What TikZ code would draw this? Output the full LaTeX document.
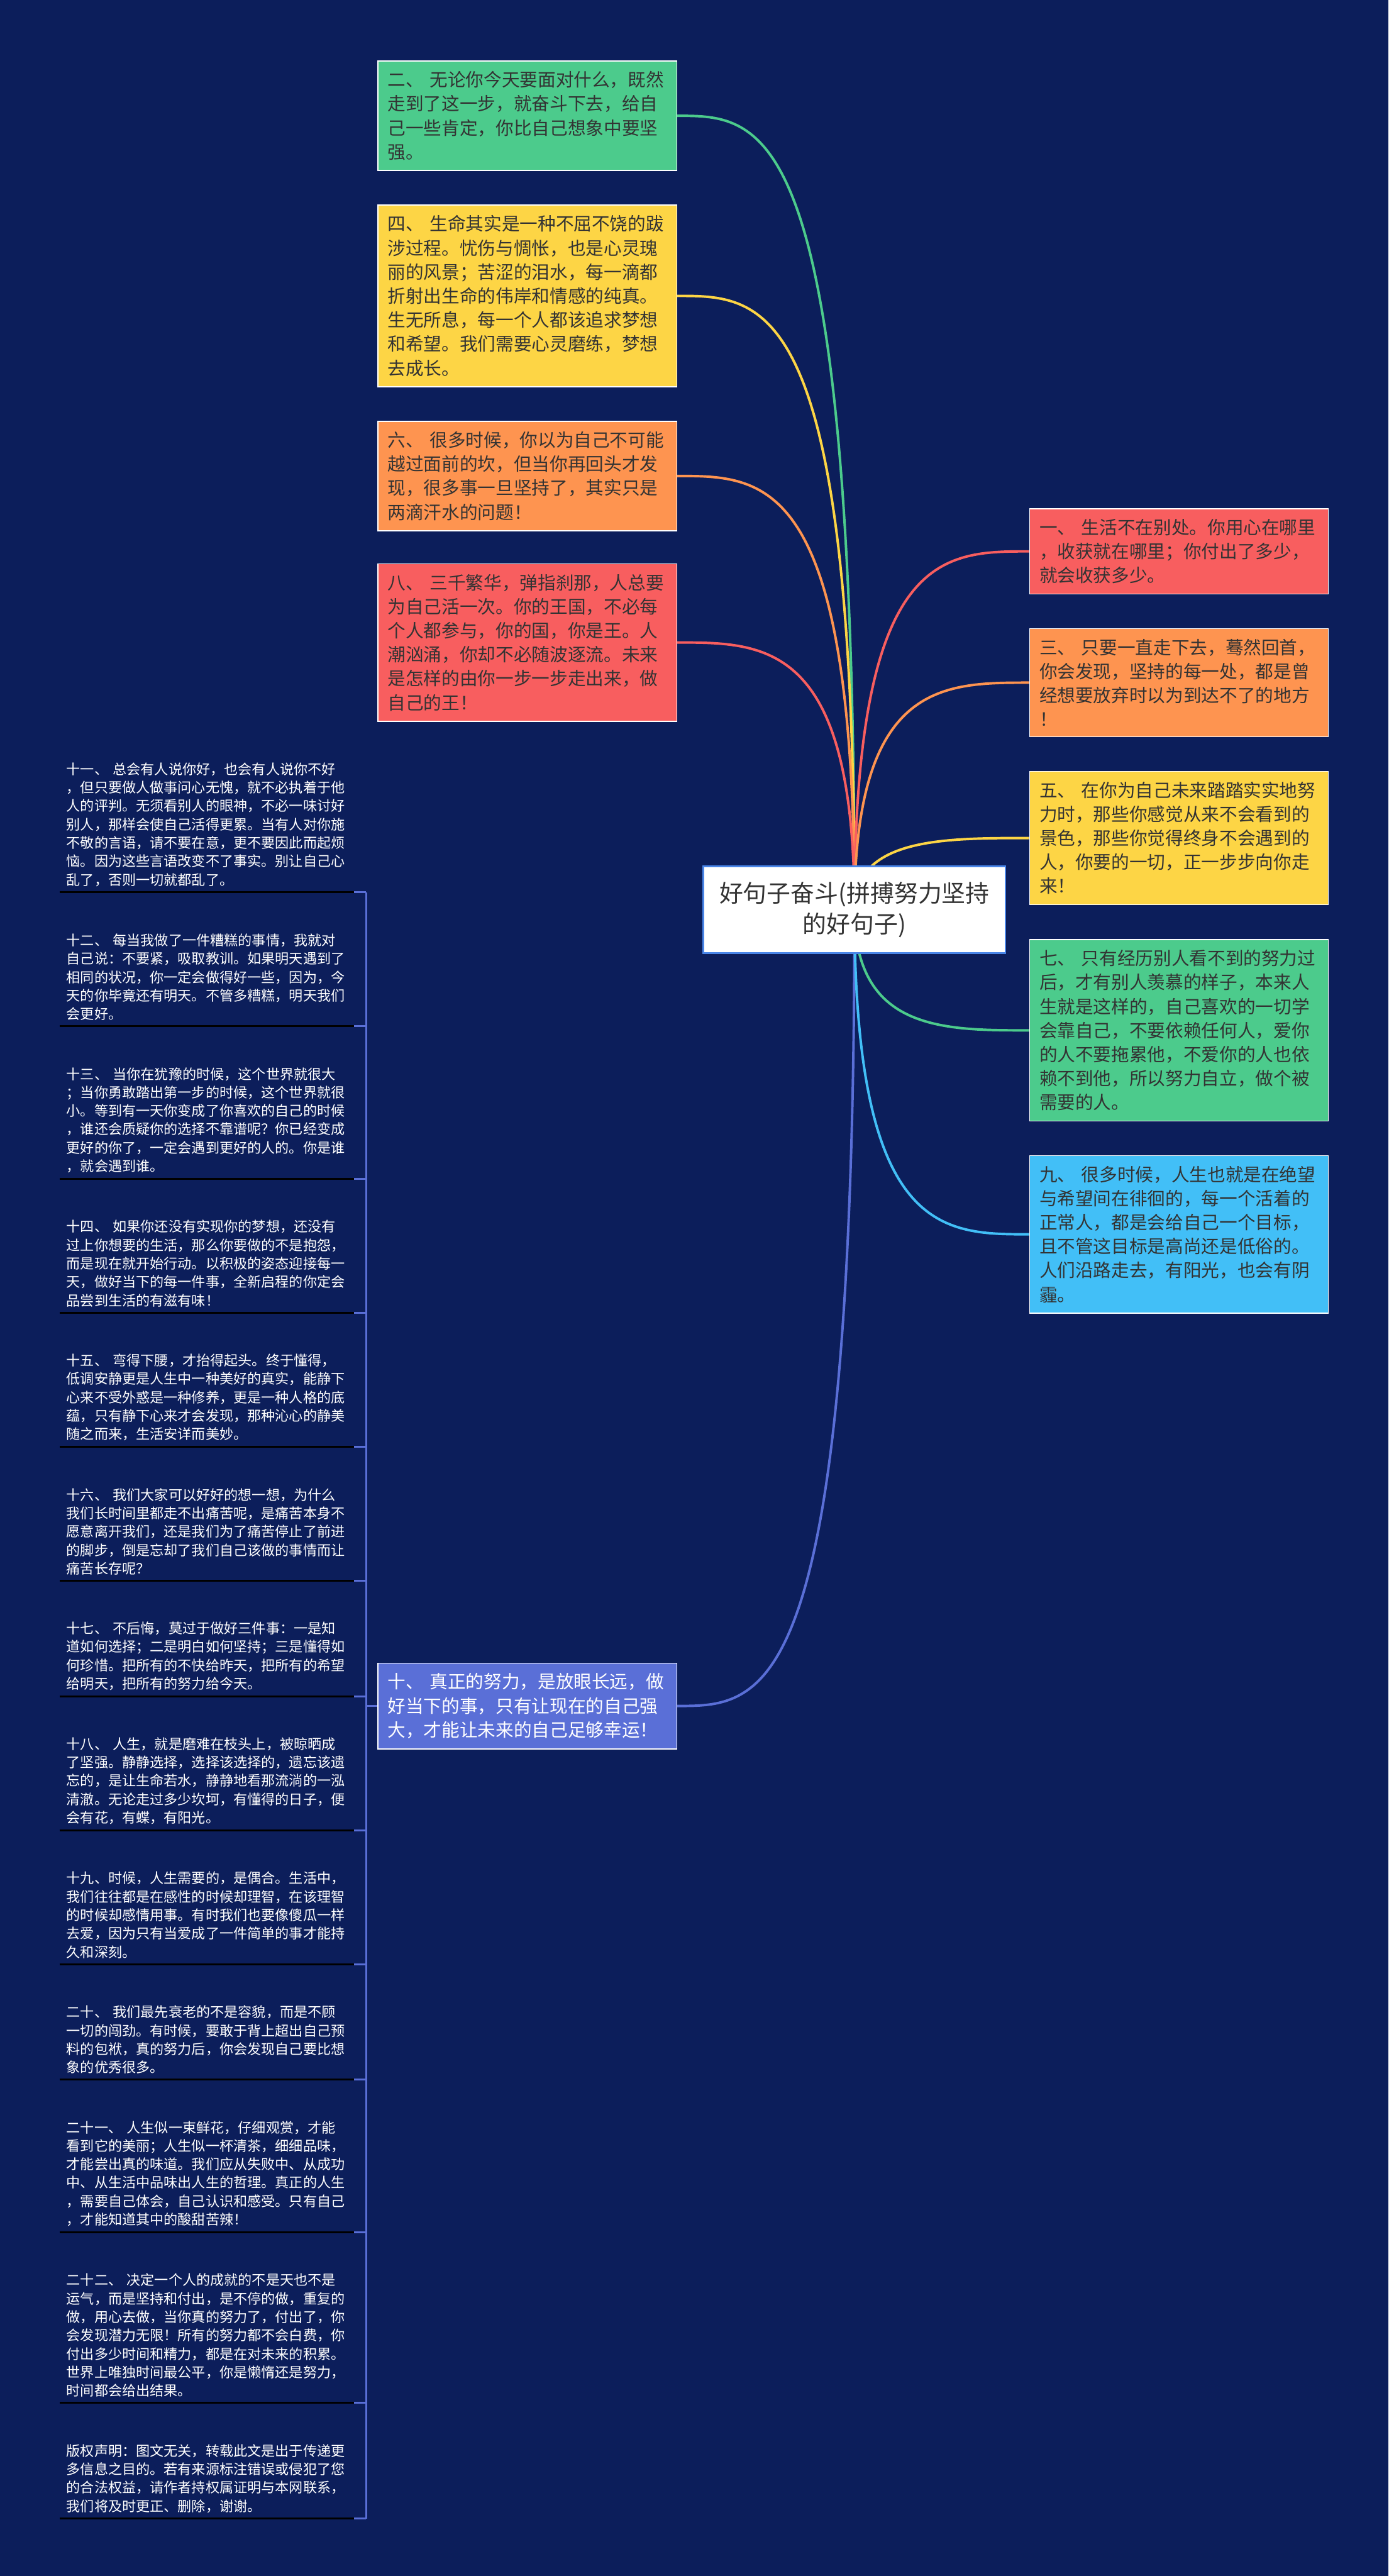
\documentclass[tikz,border=0pt]{standalone}
\usepackage{fontspec}
\setmainfont{Noto Sans CJK SC}
\usetikzlibrary{calc}
\pgfdeclarelayer{back}
\pgfsetlayers{back,main}
\definecolor{bgnavy}{HTML}{0C1E5B}
\definecolor{cgreen}{HTML}{4CCB8C}
\definecolor{cyellow}{HTML}{FDD545}
\definecolor{corange}{HTML}{FE9450}
\definecolor{cred}{HTML}{F85E5F}
\definecolor{csky}{HTML}{42BFF7}
\definecolor{croyal}{HTML}{5A6FD7}
\definecolor{cframe}{HTML}{4A86E8}
\definecolor{cink}{HTML}{333333}
\newcommand{\branch}[2]{\draw[link, #1] (root.center) .. controls (root.center |- #2) and ($(root.center |- #2)!0.5!(#2)$) .. (#2);}
\begin{document}
\begin{tikzpicture}
  \tikzstyle{hub} = [draw=cframe, line width=0.8pt, fill=white, text=cink, minimum width=5.57cm, minimum height=1.6cm, align=center, font=\fontsize{12.5}{16.3}\selectfont]
  \tikzstyle{leaf} = [draw=white, line width=0.5pt, text=cink, text width=5.15cm, inner xsep=0.18cm, inner ysep=0.19cm, align=left, font=\fontsize{9.45}{12.6}\selectfont]
  \tikzstyle{note} = [text=white, text width=5.17cm, inner xsep=0.12cm, inner ysep=0.1cm, align=left, anchor=south west, font=\fontsize{7.3}{9.67}\selectfont]
  \tikzstyle{link} = [line width=1.3pt]
  \tikzstyle{uline} = [line width=1pt]
  \useasboundingbox (0,0) rectangle (25.6,-47.49);

  \node[hub] (root) at (15.755,-16.77) {好句子奋斗(拼搏努力坚持\\的好句子)};

  \node[leaf, fill=cgreen] (b2) at (9.725,-2.135) {二、~无论你今天要面对什么，既然\\走到了这一步，就奋斗下去，给自\\己一些肯定，你比自己想象中要坚\\强。};
  \node[leaf, fill=cyellow] (b4) at (9.725,-5.455) {四、~生命其实是一种不屈不饶的跋\\涉过程。忧伤与惆怅，也是心灵瑰\\丽的风景；苦涩的泪水，每一滴都\\折射出生命的伟岸和情感的纯真。\\生无所息，每一个人都该追求梦想\\和希望。我们需要心灵磨练，梦想\\去成长。};
  \node[leaf, fill=corange] (b6) at (9.725,-8.775) {六、~很多时候，你以为自己不可能\\越过面前的坎，但当你再回头才发\\现，很多事一旦坚持了，其实只是\\两滴汗水的问题！};
  \node[leaf, fill=cred] (b8) at (9.725,-11.845) {八、~三千繁华，弹指刹那，人总要\\为自己活一次。你的王国，不必每\\个人都参与，你的国，你是王。人\\潮汹涌，你却不必随波逐流。未来\\是怎样的由你一步一步走出来，做\\自己的王！};
  \node[leaf, fill=croyal, text=white] (b10) at (9.725,-31.45) {十、~真正的努力，是放眼长远，做\\好当下的事，只有让现在的自己强\\大，才能让未来的自己足够幸运！};

  \node[leaf, fill=cred] (b1) at (21.74,-10.165) {一、~生活不在别处。你用心在哪里\\，收获就在哪里；你付出了多少，\\就会收获多少。};
  \node[leaf, fill=corange] (b3) at (21.74,-12.585) {三、~只要一直走下去，蓦然回首，\\你会发现，坚持的每一处，都是曾\\经想要放弃时以为到达不了的地方\\！};
  \node[leaf, fill=cyellow] (b5) at (21.74,-15.45) {五、~在你为自己未来踏踏实实地努\\力时，那些你感觉从来不会看到的\\景色，那些你觉得终身不会遇到的\\人，你要的一切，正一步步向你走\\来！};
  \node[leaf, fill=cgreen] (b7) at (21.74,-18.995) {七、~只有经历别人看不到的努力过\\后，才有别人羡慕的样子，本来人\\生就是这样的，自己喜欢的一切学\\会靠自己，不要依赖任何人，爱你\\的人不要拖累他，不爱你的人也依\\赖不到他，所以努力自立，做个被\\需要的人。};
  \node[leaf, fill=csky] (b9) at (21.74,-22.755) {九、~很多时候，人生也就是在绝望\\与希望间在徘徊的，每一个活着的\\正常人，都是会给自己一个目标，\\且不管这目标是高尚还是低俗的。\\人们沿路走去，有阳光，也会有阴\\霾。};

  \node[note] (n11) at (1.10,-16.45) {十一、~总会有人说你好，也会有人说你不好\\，但只要做人做事问心无愧，就不必执着于他\\人的评判。无须看别人的眼神，不必一味讨好\\别人，那样会使自己活得更累。当有人对你施\\不敬的言语，请不要在意，更不要因此而起烦\\恼。因为这些言语改变不了事实。别让自己心\\乱了，否则一切就都乱了。};
  \node[note] (n12) at (1.10,-18.92) {十二、~每当我做了一件糟糕的事情，我就对\\自己说：不要紧，吸取教训。如果明天遇到了\\相同的状况，你一定会做得好一些，因为，今\\天的你毕竟还有明天。不管多糟糕，明天我们\\会更好。};
  \node[note] (n13) at (1.10,-21.73) {十三、~当你在犹豫的时候，这个世界就很大\\；当你勇敢踏出第一步的时候，这个世界就很\\小。等到有一天你变成了你喜欢的自己的时候\\，谁还会质疑你的选择不靠谱呢？你已经变成\\更好的你了，一定会遇到更好的人的。你是谁\\，就会遇到谁。};
  \node[note] (n14) at (1.10,-24.20) {十四、~如果你还没有实现你的梦想，还没有\\过上你想要的生活，那么你要做的不是抱怨，\\而是现在就开始行动。以积极的姿态迎接每一\\天，做好当下的每一件事，全新启程的你定会\\品尝到生活的有滋有味！};
  \node[note] (n15) at (1.10,-26.67) {十五、~弯得下腰，才抬得起头。终于懂得，\\低调安静更是人生中一种美好的真实，能静下\\心来不受外惑是一种修养，更是一种人格的底\\蕴，只有静下心来才会发现，那种沁心的静美\\随之而来，生活安详而美妙。};
  \node[note] (n16) at (1.10,-29.14) {十六、~我们大家可以好好的想一想，为什么\\我们长时间里都走不出痛苦呢，是痛苦本身不\\愿意离开我们，还是我们为了痛苦停止了前进\\的脚步，倒是忘却了我们自己该做的事情而让\\痛苦长存呢？};
  \node[note] (n17) at (1.10,-31.27) {十七、~不后悔，莫过于做好三件事：一是知\\道如何选择；二是明白如何坚持；三是懂得如\\何珍惜。把所有的不快给昨天，把所有的希望\\给明天，把所有的努力给今天。};
  \node[note] (n18) at (1.10,-33.74) {十八、~人生，就是磨难在枝头上，被晾晒成\\了坚强。静静选择，选择该选择的，遗忘该遗\\忘的，是让生命若水，静静地看那流淌的一泓\\清澈。无论走过多少坎坷，有懂得的日子，便\\会有花，有蝶，有阳光。};
  \node[note] (n19) at (1.10,-36.21) {十九、时候，人生需要的，是偶合。生活中，\\我们往往都是在感性的时候却理智，在该理智\\的时候却感情用事。有时我们也要像傻瓜一样\\去爱，因为只有当爱成了一件简单的事才能持\\久和深刻。};
  \node[note] (n20) at (1.10,-38.34) {二十、~我们最先衰老的不是容貌，而是不顾\\一切的闯劲。有时候，要敢于背上超出自己预\\料的包袱，真的努力后，你会发现自己要比想\\象的优秀很多。};
  \node[note] (n21) at (1.10,-41.15) {二十一、~人生似一束鲜花，仔细观赏，才能\\看到它的美丽；人生似一杯清茶，细细品味，\\才能尝出真的味道。我们应从失败中、从成功\\中、从生活中品味出人生的哲理。真正的人生\\，需要自己体会，自己认识和感受。只有自己\\，才能知道其中的酸甜苦辣！};
  \node[note] (n22) at (1.10,-44.30) {二十二、~决定一个人的成就的不是天也不是\\运气，而是坚持和付出，是不停的做，重复的\\做，用心去做，当你真的努力了，付出了，你\\会发现潜力无限！所有的努力都不会白费，你\\付出多少时间和精力，都是在对未来的积累。\\世界上唯独时间最公平，你是懒惰还是努力，\\时间都会给出结果。};
  \node[note] (nc) at (1.10,-46.43) {版权声明：图文无关，转载此文是出于传递更\\多信息之目的。若有来源标注错误或侵犯了您\\的合法权益，请作者持权属证明与本网联系，\\我们将及时更正、删除，谢谢。};

  \coordinate (rail) at (6.75,-16.45);
  \foreach \n in {n11,n12,n13,n14,n15,n16,n17,n18,n19,n20,n21,n22,nc} {
    \draw[uline, black] (\n.south west) -- (\n.south east);
    \draw[uline, croyal] (\n.south east) -- (\n.south east -| rail);
  }
  \draw[uline, croyal] (n11.south east -| rail) -- (nc.south east -| rail);
  \draw[uline, croyal] (b10.west) -- (b10.west -| rail);

  \begin{pgfonlayer}{back}
    \fill[bgnavy] (0,0) rectangle (25.6,-47.49);
    \branch{cgreen}{b2.east}
    \branch{cyellow}{b4.east}
    \branch{corange}{b6.east}
    \branch{cred}{b8.east}
    \branch{croyal}{b10.east}
    \branch{cred}{b1.west}
    \branch{corange}{b3.west}
    \branch{cyellow}{b5.west}
    \branch{cgreen}{b7.west}
    \branch{csky}{b9.west}
  \end{pgfonlayer}
\end{tikzpicture}
\end{document}
